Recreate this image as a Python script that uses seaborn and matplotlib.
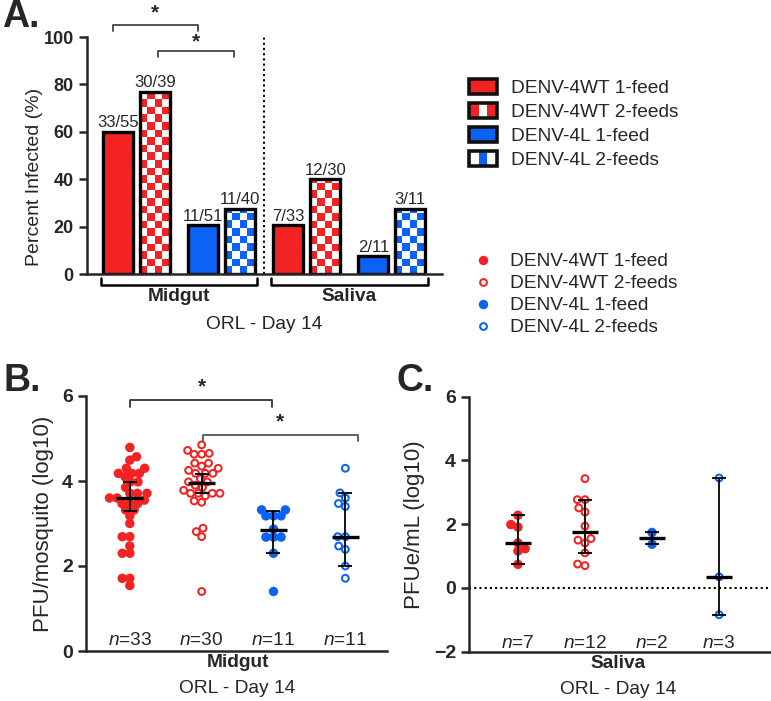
import numpy as np
import pandas as pd
import matplotlib
matplotlib.use("Agg")
import matplotlib.pyplot as plt
import matplotlib.colors as mcolors
import seaborn as sns
from matplotlib.patches import Rectangle
from matplotlib.lines import Line2D
from matplotlib.legend_handler import HandlerBase

RED = "#F42323"
BLUE = "#0B62F4"

groups = ["DENV-4WT 1-feed", "DENV-4WT 2-feeds", "DENV-4L 1-feed", "DENV-4L 2-feeds"]
group_colors = [RED, RED, BLUE, BLUE]
group_open = [False, True, False, True]

# panel A: percent infected
a_pair = ["Midgut WT", "Midgut WT", "Midgut 4L", "Midgut 4L",
          "Saliva WT", "Saliva WT", "Saliva 4L", "Saliva 4L"]
a_feed = ["1-feed", "2-feeds"] * 4
a_pct = [60, 77, 20.5, 27.5, 20.5, 40, 7.5, 27.5]
a_frac = ["33/55", "30/39", "11/51", "11/40", "7/33", "12/30", "2/11", "3/11"]
pair_colors = [RED, BLUE, RED, BLUE]

# panel B: midgut titers
b_vals = [
    [4.79, 4.57, 4.49, 4.30, 4.30, 4.18, 4.18, 4.18, 4.10, 3.98, 3.98, 3.85, 3.71,
     3.71, 3.71, 3.60, 3.60, 3.55, 3.47, 3.47, 3.47, 3.32, 3.32, 3.18, 3.00, 2.69,
     2.69, 2.47, 2.30, 2.30, 1.71, 1.71, 1.54],
    [4.85, 4.72, 4.65, 4.63, 4.63, 4.42, 4.42, 4.35, 4.30, 4.25, 4.18, 4.18, 4.18,
     4.05, 3.98, 3.98, 3.90, 3.85, 3.78, 3.71, 3.71, 3.71, 3.71, 3.65, 3.53, 3.50,
     2.89, 2.81, 2.69, 1.40],
    [3.32, 3.32, 3.18, 3.18, 3.18, 2.87, 2.68, 2.68, 2.68, 2.30, 1.40],
    [4.30, 3.72, 3.60, 3.47, 3.40, 2.69, 2.69, 2.47, 2.39, 2.00, 1.71],
]
b_med = [3.59, 3.95, 2.85, 2.69]
b_lo = [3.29, 3.71, 2.30, 2.00]
b_hi = [3.98, 4.16, 3.29, 3.71]
b_n = ["33", "30", "11", "11"]

# panel C: saliva titers
c_vals = [
    [2.28, 1.99, 1.91, 1.41, 1.23, 1.16, 0.74],
    [3.43, 2.77, 2.77, 2.51, 2.38, 1.94, 1.55, 1.50, 1.41, 1.10, 0.75, 0.70],
    [1.74, 1.37],
    [3.45, 0.35, -0.84],
]
c_med = [1.41, 1.76, 1.56, 0.35]
c_lo = [0.74, 1.10, 1.37, -0.84]
c_hi = [2.30, 2.75, 1.74, 3.45]
c_n = ["7", "12", "2", "3"]

FILLED_SIZE, OPEN_SIZE, OPEN_LW = 6.8, 4.9, 1.45
FS = 13.8
swarm_cols = []


class SwatchHandler(HandlerBase):
    def __init__(self, color, checker, phase):
        super().__init__()
        self.color, self.checker, self.phase = color, checker, phase

    def create_artists(self, legend, orig_handle, xdescent, ydescent, width, height, fontsize, trans):
        x0, y0 = -xdescent, -ydescent
        base = self.color if (not self.checker or self.phase == 0) else "white"
        mid = "white" if self.phase == 0 else self.color
        arts = [Rectangle((x0, y0), width, height, facecolor=base, edgecolor="none", transform=trans)]
        if self.checker:
            arts.append(Rectangle((x0 + width * 0.35, y0), width * 0.3, height,
                                  facecolor=mid, edgecolor="none", transform=trans))
        arts.append(Rectangle((x0, y0), width, height, facecolor="none", edgecolor="#111111",
                              lw=2.6, transform=trans))
        return arts


def checker(ax, bar, color, cell_h):
    x0, w, h = bar.get_x(), bar.get_width(), bar.get_height()
    nrows = int(np.ceil(h / cell_h))
    grid = np.add.outer(np.arange(nrows), np.arange(4)) % 2
    img = np.where(grid[..., None] == 0, np.array(mcolors.to_rgb(color)), np.ones(3))
    im = ax.imshow(img, extent=(x0, x0 + w, 0, nrows * cell_h), origin="lower",
                   aspect="auto", interpolation="nearest", zorder=0.9)
    im.set_clip_path(bar)
    bar.set_facecolor("none")


def style_axis(ax, fs):
    sns.despine(ax=ax)
    for s in ("left", "bottom"):
        ax.spines[s].set_linewidth(1.8)
    ax.tick_params(axis="y", width=1.8, length=6, labelsize=fs)
    ax.set_xticks([])
    ax.set_xlabel("")
    for lbl in ax.get_yticklabels():
        lbl.set_fontweight("bold")


def dot_panel(ax, vals, med, lo, hi):
    df = pd.DataFrame({
        "group": np.repeat(groups, [len(v) for v in vals]),
        "value": np.concatenate(vals),
        "open": np.repeat(group_open, [len(v) for v in vals]),
    })
    pal = dict(zip(groups, group_colors))
    for is_open in (False, True):
        n0 = len(ax.collections)
        # lay the swarm out with smaller dots, they get their real size after layout
        sns.swarmplot(data=df[df["open"] == is_open], x="group", y="value", hue="group",
                      order=groups, hue_order=groups, palette=pal, legend=False,
                      size=5.2, linewidth=0, warn_thresh=1, ax=ax, zorder=3)
        for col in ax.collections[n0:]:
            swarm_cols.append((col, is_open))
    x = np.arange(len(groups))
    med, lo, hi = np.array(med), np.array(lo), np.array(hi)
    ax.errorbar(x, med, yerr=[med - lo, hi - med], fmt="none", ecolor="black",
                elinewidth=1.3, capsize=5, capthick=1.3, zorder=5)
    ax.hlines(med, x - 0.19, x + 0.19, colors="black", lw=2.4, zorder=6)


def bracket(ax, x0, x1, y, drop, color):
    ax.plot([x0, x0, x1, x1], [y - drop, y, y, y - drop], color=color, lw=1.3, clip_on=False)


sns.set_style("ticks")
plt.rcParams["font.family"] = ["Liberation Sans", "DejaVu Sans"]
plt.rcParams["mathtext.fontset"] = "custom"
plt.rcParams["mathtext.it"] = "Liberation Sans:italic"
plt.rcParams["mathtext.rm"] = "Liberation Sans"

W, H = 771, 701
fig = plt.figure(figsize=(W / 100, H / 100), dpi=100)

# ---------------- panel A
axA = fig.add_axes([87 / W, 1 - 274 / H, (442 - 87) / W, (274 - 37) / H])
dfa = pd.DataFrame({"pair": a_pair, "feed": a_feed, "pct": a_pct})
sns.barplot(data=dfa, x="pair", y="pct", hue="feed", dodge=True, width=0.87, gap=0.19,
            errorbar=None, saturation=1, legend=False, linewidth=2.4, edgecolor="black", ax=axA)
for ci, cont in enumerate(axA.containers):
    for bi, bar in enumerate(cont):
        bar.set_facecolor(pair_colors[bi])
        if ci == 1:
            checker(axA, bar, pair_colors[bi], 3.2)
    axA.bar_label(cont, labels=a_frac[ci::2], padding=1, fontsize=12)
axA.set_xlim(-0.58, 3.59)
axA.set_ylim(0, 100)
axA.set_yticks([0, 20, 40, 60, 80, 100])
style_axis(axA, 13)
axA.set_ylabel("Percent Infected (%)", fontsize=14)
axA.yaxis.set_label_coords(-0.124, 0.41)
axA.axvline(1.5, ls=(0, (1, 1.5)), color="black", lw=1.5)
bracket(axA, -0.28, 0.72, 105, 2.5, "#444444")
bracket(axA, 0.25, 1.15, 94, 2.5, "#444444")
axA.text(0.22, 106, "*", ha="center", va="bottom", fontsize=15, fontweight="bold", clip_on=False)
axA.text(0.70, 94, "*", ha="center", va="bottom", fontsize=15, fontweight="bold", clip_on=False)
for tissue, cx in (("Midgut", 0.5), ("Saliva", 2.5)):
    axA.plot([cx - 0.92, cx - 0.92, cx + 0.92, cx + 0.92], [-1.8, -4.6, -4.6, -1.8],
             color="black", lw=1.8, clip_on=False)
    axA.text(cx, -9.7, tissue, ha="center", va="center", fontsize=FS, fontweight="bold")
axA.text(1.5, -21.5, "ORL - Day 14", ha="center", va="center", fontsize=FS)

# ---------------- panel B
axB = fig.add_axes([86 / W, 1 - 651 / H, (387 - 86) / W, 255 / H])
dot_panel(axB, b_vals, b_med, b_lo, b_hi)
axB.set_xlim(-0.61, 3.58)
axB.set_ylim(0, 6)
axB.set_yticks([0, 2, 4, 6])
style_axis(axB, 14)
axB.set_ylabel("PFU/mosquito (log10)", fontsize=16, labelpad=6)
for i, n in enumerate(b_n):
    axB.text(i, 0.24, f"$n$={n}", ha="center", va="center", fontsize=FS)
bracket(axB, 0, 1.98, 5.9, 0.15, "#333333")
bracket(axB, 1.02, 3.17, 5.08, 0.15, "#555555")
axB.text(1.0, 5.98, "*", ha="center", va="bottom", fontsize=15, fontweight="bold", clip_on=False)
axB.text(2.09, 5.16, "*", ha="center", va="bottom", fontsize=15, fontweight="bold")
axB.text(1.5, -0.28, "Midgut", ha="center", va="center", fontsize=FS, fontweight="bold")
axB.text(1.5, -0.89, "ORL - Day 14", ha="center", va="center", fontsize=FS)

# ---------------- panel C
axC = fig.add_axes([469 / W, 1 - 651.7 / H, (770 - 469) / W, 255 / H])
dot_panel(axC, c_vals, c_med, c_lo, c_hi)
axC.axhline(0, ls=(0, (1, 1.5)), color="black", lw=1.5, zorder=1)
axC.set_xlim(-0.73, 3.76)
axC.set_ylim(-2, 6)
axC.set_yticks([-2, 0, 2, 4, 6])
style_axis(axC, 14)
axC.set_ylabel("PFUe/mL (log10)", fontsize=16, labelpad=6)
for i, n in enumerate(c_n):
    axC.text(i, -1.73, f"$n$={n}", ha="center", va="center", fontsize=FS)
axC.text(1.5, -2.36, "Saliva", ha="center", va="center", fontsize=FS, fontweight="bold")
axC.text(1.5, -3.18, "ORL - Day 14", ha="center", va="center", fontsize=FS)

# ---------------- legends
swatches = [Rectangle((0, 0), 1, 1) for _ in groups]
hmap = {h: SwatchHandler(c, o, 0 if c == RED else 1)
        for h, c, o in zip(swatches, group_colors, group_open)}
fig.legend(swatches, groups, handler_map=hmap, loc="upper left",
           bbox_to_anchor=(469 / W, 1 - 79 / H), frameon=False, fontsize=FS,
           borderpad=0, borderaxespad=0, handlelength=1.47, handleheight=0.85,
           handletextpad=0.74, labelspacing=0.3)
dots = [Line2D([], [], ls="none", marker="o", markersize=OPEN_SIZE if o else FILLED_SIZE,
               markerfacecolor="white" if o else c, markeredgecolor=c,
               markeredgewidth=OPEN_LW if o else 0)
        for c, o in zip(group_colors, group_open)]
fig.legend(dots, groups, loc="upper left", bbox_to_anchor=(474 / W, 1 - 253 / H),
           frameon=False, fontsize=FS, borderpad=0, borderaxespad=0,
           handlelength=0.95, handletextpad=0.95, labelspacing=0.24)

# panel letters
for letter, x, y in (("A.", 2, 27), ("B.", 3, 391), ("C.", 397, 391)):
    fig.text(x / W, 1 - y / H, letter, fontsize=27, fontweight="bold", va="baseline")

# run the swarm layout once, then freeze it and give the dots their real look
fig.canvas.draw()
for col, is_open in swarm_cols:
    col.__dict__.pop("draw", None)
    if is_open:
        col.set_edgecolor(col.get_facecolor())
        col.set_facecolor("white")
        col.set_linewidth(OPEN_LW)
        col.set_sizes([OPEN_SIZE ** 2])
    else:
        col.set_sizes([FILLED_SIZE ** 2])

fig.savefig("out.png", dpi=100)
plt.close("all")
